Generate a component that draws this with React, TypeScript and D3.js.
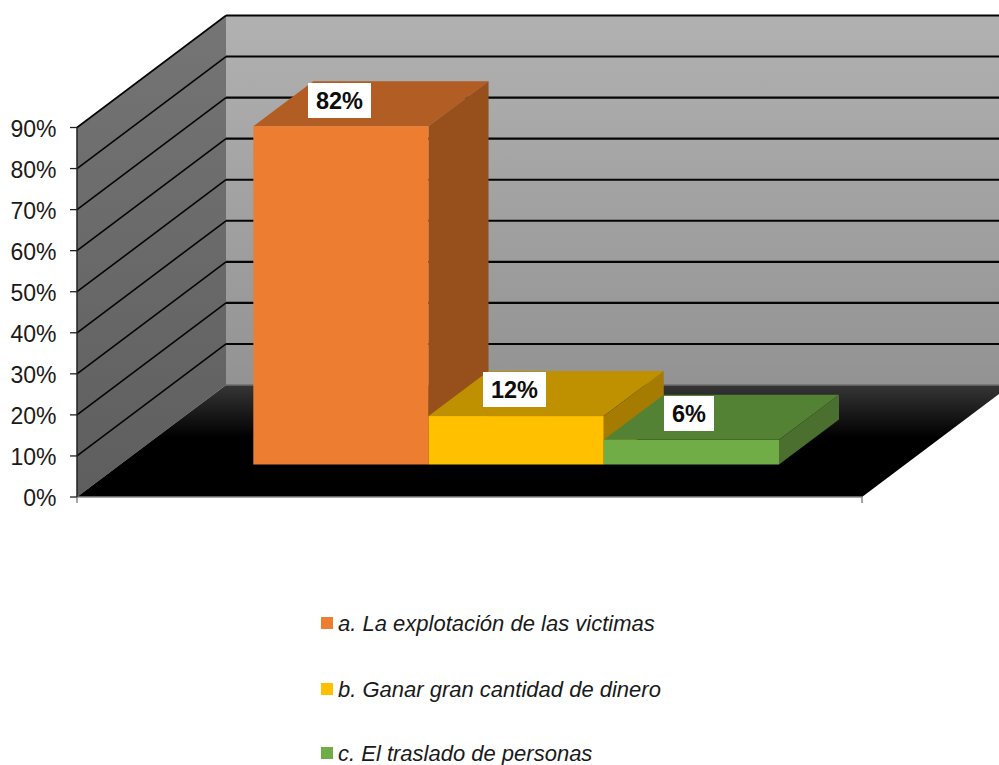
import React from "react";
import * as d3 from "d3";

const categories = ["a. La explotación de las victimas", "b. Ganar gran cantidad de dinero", "c. El traslado de personas"];
const values = [82.4, 11.8, 6];
const valueLabels = ["82%", "12%", "6%"];
const ticks = [0, 10, 20, 30, 40, 50, 60, 70, 80, 90];
const front = ["#ED7D31", "#FFC000", "#70AD47"];
const top = ["#B15D23", "#BF9000", "#548235"];
const side = ["#974F1C", "#A67C00", "#4A6F2E"];
const labelBoxes = [
  { x: 308, y: 83, w: 63, h: 35 },
  { x: 483, y: 372, w: 63, h: 35 },
  { x: 664, y: 396, w: 50, h: 35 },
];
const legendY = [623, 689, 753];

const FONT = "'Liberation Sans', Arial, sans-serif";
const WALL_DX = 149;
const WALL_DY = -112;
const BAR_DX = 60;
const BAR_DY = -45;
const BASE_LIFT = 32.5;

const y = d3.scaleLinear().domain([0, 90]).range([497, 127.5]);
const x = d3.scaleBand<string>().domain(categories).range([253.3, 779]).padding(0);
const X0 = 77;
const X1 = 862;

const poly = (pts: [number, number][]) => d3.line()(pts) + "Z";

export default function App() {
  const y0 = y(0);
  const y90 = y(90);
  return (
    <svg width={999} height={765} viewBox="0 0 999 765" style={{ position: "absolute", left: 0, top: 0, display: "block", background: "#fff" }}>
      <defs>
        <linearGradient id="back" x1="0" y1="0" x2="0" y2="1">
          <stop offset="0" stopColor="#B1B1B1" />
          <stop offset="1" stopColor="#939393" />
        </linearGradient>
        <linearGradient id="sideWall" x1="0" y1="0" x2="0" y2="1">
          <stop offset="0" stopColor="#757575" />
          <stop offset="1" stopColor="#5E5E5E" />
        </linearGradient>
        <linearGradient id="floor" x1="0" y1="0" x2="0" y2="1">
          <stop offset="0" stopColor="#363636" />
          <stop offset="0.47" stopColor="#000" />
          <stop offset="1" stopColor="#000" />
        </linearGradient>
      </defs>

      <path d={poly([[X0 + WALL_DX, y90 + WALL_DY], [1011, y90 + WALL_DY], [1011, y0 + WALL_DY], [X0 + WALL_DX, y0 + WALL_DY]])} fill="url(#back)" />
      <path d={poly([[X0, y90], [X0 + WALL_DX, y90 + WALL_DY], [X0 + WALL_DX, y0 + WALL_DY], [X0, y0]])} fill="url(#sideWall)" />
      <path d={poly([[X0, y0], [X0 + WALL_DX, y0 + WALL_DY], [X1 + WALL_DX, y0 + WALL_DY], [X1, y0]])} fill="url(#floor)" />
      <path d={`M${X0 + WALL_DX},${y0 + WALL_DY}H1011`} stroke="#6e6e6e" strokeWidth={1.5} />

      {ticks.filter((t) => t > 0).map((t) => (
        <g key={t} fill="none" stroke="#050505">
          <path d={`M${X0},${y(t)}L${X0 + WALL_DX},${y(t) + WALL_DY}`} strokeWidth={1.6} />
          <path d={`M${X0 + WALL_DX},${y(t) + WALL_DY}H1011`} strokeWidth={2.1} />
        </g>
      ))}
      <path d={`M${X0},${y0}H${X1}`} stroke="#8a8a8a" strokeWidth={1.5} />
      <path d={`M${X1},${y0}v6`} stroke="#8a8a8a" strokeWidth={1.5} />
      <path d={`M${X0},${y0}v6`} stroke="#8a8a8a" strokeWidth={1.5} />
      <path d={`M${X0},${y90}V${y0}`} stroke="#222" strokeWidth={1.5} />

      {ticks.map((t) => (
        <g key={t}>
          <path d={`M${X0 - 7},${y(t)}H${X0}`} stroke="#222" strokeWidth={1.3} />
          <text x={56.5} y={y(t) + 9} textAnchor="end" fontFamily={FONT} fontSize={23} fill="#1a1a1a">{t}%</text>
        </g>
      ))}

      {categories.map((c, i) => {
        const bx = x(c)!;
        const bw = x.bandwidth();
        const base = y0 - BASE_LIFT;
        const h = y0 - y(values[i]);
        const t = base - h;
        return (
          <g key={c}>
            <path d={poly([[bx, t], [bx + BAR_DX, t + BAR_DY], [bx + bw + BAR_DX, t + BAR_DY], [bx + bw, t]])} fill={top[i]} />
            <path d={poly([[bx + bw, t], [bx + bw + BAR_DX, t + BAR_DY], [bx + bw + BAR_DX, base + BAR_DY], [bx + bw, base]])} fill={side[i]} />
            <rect x={bx} y={t} width={bw} height={h} fill={front[i]} />
          </g>
        );
      })}

      {valueLabels.map((l, i) => (
        <g key={l}>
          <rect x={labelBoxes[i].x} y={labelBoxes[i].y} width={labelBoxes[i].w} height={labelBoxes[i].h} fill="#fff" />
          <text x={labelBoxes[i].x + labelBoxes[i].w / 2} y={labelBoxes[i].y + 26} textAnchor="middle" fontFamily={FONT} fontWeight="bold" fontSize={23.5} fill="#0d0d0d">{l}</text>
        </g>
      ))}

      {categories.map((c, i) => (
        <g key={c}>
          <rect x={321} y={legendY[i] - 6} width={12} height={12} fill={front[i]} />
          <text x={338} y={legendY[i] + 8} fontFamily={FONT} fontStyle="italic" fontSize={22} fill="#1a1a1a">{c}</text>
        </g>
      ))}
    </svg>
  );
}
